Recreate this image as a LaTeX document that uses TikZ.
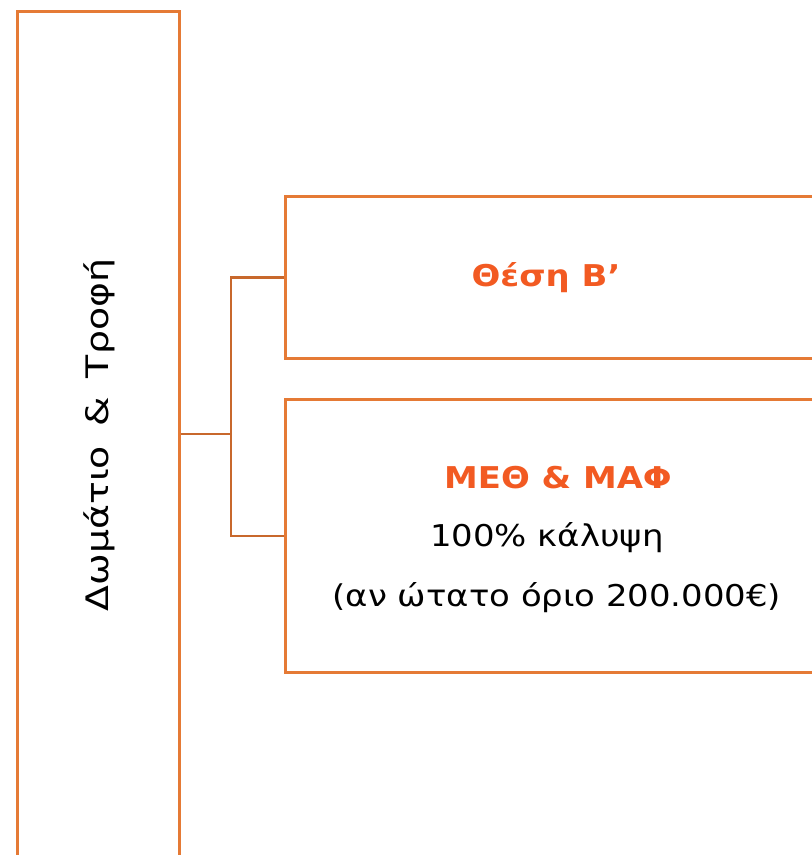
\documentclass[tikz,border=0pt]{standalone}
\usepackage{fontspec}
\setmainfont{DejaVu Sans}[FakeStretch=1.13]
\newfontfamily\widefont{DejaVu Sans}[FakeStretch=1.22,WordSpace=1.6]
\definecolor{boxline}{HTML}{E57A35}
\definecolor{connline}{HTML}{C8682C}
\definecolor{headtext}{HTML}{F25A22}
\begin{document}
\begin{tikzpicture}[x=1pt,y=-1pt,
  panel/.style={draw=boxline,line width=2.6pt,rectangle,inner sep=0pt},
  conn/.style={draw=connline,line width=2.6pt},
  head/.style={text=headtext,font=\fontsize{30}{36}\selectfont\bfseries,inner sep=0pt},
  body/.style={text=black,font=\fontsize{30}{36}\selectfont,inner sep=0pt},
  side/.style={text=black,font=\widefont\fontsize{31}{36}\selectfont,inner sep=0pt}]
\useasboundingbox (0,0) rectangle (812,855);
\clip (0,0) rectangle (812,855);
\node[panel,minimum width=162pt,minimum height=880pt,anchor=north west] (left) at (16,10) {};
\node[panel,minimum width=546pt,minimum height=162pt,anchor=north west] (b1) at (284,195) {};
\node[panel,minimum width=546pt,minimum height=273pt,anchor=north west] (b2) at (284,398) {};
\node[side,rotate=90] (lt) at (99,435) {Δωμάτιο \& Τροφή};
\node[head] (t1) at (546,278) {Θέση Β’};
\node[head] (t2) at (558,478) {ΜΕΘ \& ΜΑΦ};
\node[body] (t3) at (547,538) {100\% κάλυψη};
\node[body] (t4) at (557,598) {(αν ώτατο όριο 200.000€)};
\coordinate (j) at (231,434);
\draw[conn] (left.east |- j) -- (j);
\draw[conn] (b1.west) -| (j) |- (b2.west);
\end{tikzpicture}
\end{document}
